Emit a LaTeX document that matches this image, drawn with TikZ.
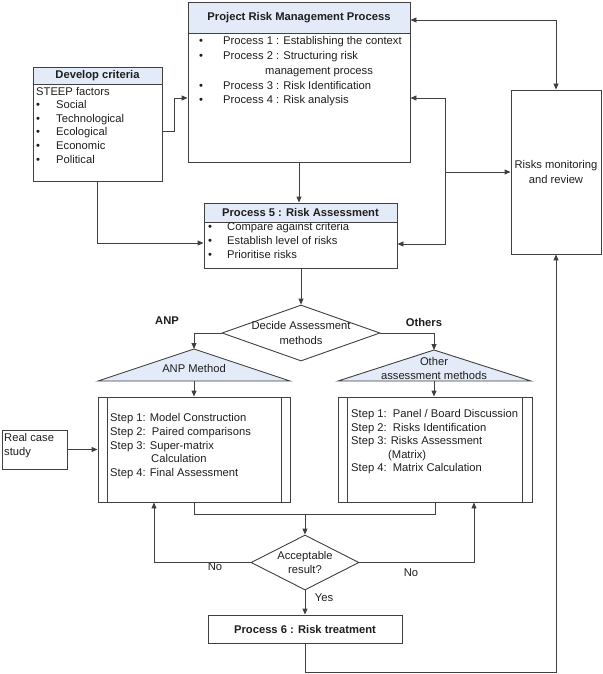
\documentclass[tikz,border=0pt]{standalone}
\usepackage{fontspec}
\setmainfont{Liberation Sans}
\usetikzlibrary{arrows.meta,shapes.geometric,calc}
\definecolor{lnc}{HTML}{404040}
\definecolor{hdc}{HTML}{E3EBF8}
\definecolor{txc}{HTML}{1E1E1E}
\begin{document}
\begin{tikzpicture}[x=1pt,y=-1pt,
  every node/.style={font=\fontsize{11.2}{14.5}\selectfont, text=txc},
  box/.style={draw=lnc, line width=0.9pt, rectangle, inner sep=0pt},
  hdr/.style={draw=lnc, line width=0.9pt, rectangle, inner sep=0pt, fill=hdc, font=\fontsize{11.2}{14.5}\selectfont\bfseries},
  txt/.style={anchor=west, inner sep=0pt, text height=8pt, text depth=2.3pt},
  ctx/.style={anchor=center, inner sep=0pt, text height=8pt, text depth=2.3pt},
  bul/.style={anchor=center, inner sep=0pt},
  wire/.style={draw=lnc, line width=0.9pt},
  arr/.style={draw=lnc, line width=0.9pt, -{Triangle[length=6pt,width=5pt]}},
  arrb/.style={draw=lnc, line width=0.9pt, {Triangle[length=6pt,width=5pt]}-{Triangle[length=6pt,width=5pt]}},
  dia/.style={draw=lnc, line width=0.9pt, diamond, inner sep=0pt, fill=white},
  tri/.style={draw=lnc, line width=0.9pt, fill=hdc},
  lab/.style={inner sep=0pt, text height=8pt, text depth=2.3pt},
  mlab/.style={inner sep=0pt},
]
\useasboundingbox (0,0) rectangle (602,674);

% Project Risk Management Process
\node[box, minimum width=222pt, minimum height=160pt] (prm) at (299,82) {};
\node[hdr, minimum width=222pt, minimum height=31pt] (prmh) at (299,17.5) {Project Risk Management Process};
\node[bul] (pb1) at (201,42) {•};
\node[txt] (pt1) at (223,42) {Process 1 : Establishing the context};
\node[bul] (pb2) at (201,57) {•};
\node[txt] (pt2) at (223,57) {Process 2 : Structuring risk};
\node[txt] (pt2b) at (265,72) {management process};
\node[bul] (pb3) at (201,87) {•};
\node[txt] (pt3) at (223,87) {Process 3 : Risk Identification};
\node[bul] (pb4) at (201,101) {•};
\node[txt] (pt4) at (223,101) {Process 4 : Risk analysis};

% Develop criteria
\node[box, minimum width=129pt, minimum height=114pt] (dc) at (97.5,124) {};
\node[hdr, minimum width=129pt, minimum height=17pt] (dch) at (97.5,75.5) {Develop criteria};
\node[txt] (dct0) at (36,93) {STEEP factors};
\node[bul] (db1) at (38,106) {•};
\node[txt] (dt1) at (56,106) {Social};
\node[bul] (db2) at (38,120) {•};
\node[txt] (dt2) at (56,120) {Technological};
\node[bul] (db3) at (38,133) {•};
\node[txt] (dt3) at (56,133) {Ecological};
\node[bul] (db4) at (38,147) {•};
\node[txt] (dt4) at (56,147) {Economic};
\node[bul] (db5) at (38,161) {•};
\node[txt] (dt5) at (56,161) {Political};

% Process 5
\node[box, minimum width=193pt, minimum height=65pt] (p5) at (300.5,235.5) {};
\node[hdr, minimum width=193pt, minimum height=19pt] (p5h) at (300.5,212.5) {Process 5 : Risk Assessment};
\node[bul] (qb1) at (210,228) {•};
\node[txt] (qt1) at (227,228) {Compare against criteria};
\node[bul] (qb2) at (210,242) {•};
\node[txt] (qt2) at (227,242) {Establish level of risks};
\node[bul] (qb3) at (210,256) {•};
\node[txt] (qt3) at (227,256) {Prioritise risks};

% Risks monitoring and review
\node[box, minimum width=90pt, minimum height=164pt, align=center] (rm) at (556,172) {Risks monitoring\\and review};

% Decide assessment methods
\node[dia, minimum width=158pt, minimum height=56pt] (d1) at (301,333) {};
\node[mlab, align=center] (d1t) at (301,333) {Decide Assessment\\methods};
\node[lab, font=\fontsize{11.2}{14.5}\selectfont\bfseries] (anpl) at (167,322) {ANP};
\node[lab, font=\fontsize{11.2}{14.5}\selectfont\bfseries] (othl) at (424,324) {Others};

% triangles
\coordinate (anpT) at (194,349);
\coordinate (anpB) at (194,381);
\draw[tri] (98,381) -- (anpT) -- (290,381) -- cycle;
\node[ctx] (anpt) at (194,370) {ANP Method};
\coordinate (othT) at (434,350);
\coordinate (othB) at (434,381);
\draw[tri] (338,381) -- (othT) -- (531,381) -- cycle;
\node[ctx] (otht1) at (434,363) {Other};
\node[ctx] (otht2) at (434,377) {assessment methods};

% ANP steps box
\node[box, minimum width=192pt, minimum height=105pt] (ab) at (194,449.5) {};
\draw[wire] ($(ab.north west)+(10,0)$) -- ($(ab.south west)+(10,0)$);
\draw[wire] ($(ab.north east)+(-9,0)$) -- ($(ab.south east)+(-9,0)$);
\node[txt] (a1) at (110,419) {Step 1: Model Construction};
\node[txt] (a2) at (110,433) {Step 2:\ \ Paired comparisons};
\node[txt] (a3) at (110,447) {Step 3: Super-matrix};
\node[txt] (a3b) at (151,460) {Calculation};
\node[txt] (a4) at (110,474) {Step 4: Final Assessment};

% Other steps box
\node[box, minimum width=194pt, minimum height=105pt] (ob) at (435,449.5) {};
\draw[wire] ($(ob.north west)+(10,0)$) -- ($(ob.south west)+(10,0)$);
\draw[wire] ($(ob.north east)+(-10,0)$) -- ($(ob.south east)+(-10,0)$);
\node[txt] (o1) at (351,415) {Step 1:\ \ Panel / Board Discussion};
\node[txt] (o2) at (351,429) {Step 2:\ \ Risks Identification};
\node[txt] (o3) at (351,442) {Step 3: Risks Assessment};
\node[txt] (o3b) at (388,456) {(Matrix)};
\node[txt] (o4) at (351,469) {Step 4:\ \ Matrix Calculation};

% Real case study
\node[box, minimum width=65pt, minimum height=39pt] (rc) at (34.5,449.5) {};
\node[txt] (rc1) at (4,439) {Real case};
\node[txt] (rc2) at (4,453) {study};

% Acceptable result
\node[dia, minimum width=108pt, minimum height=55pt] (d2) at (305,562.5) {};
\node[mlab, align=center] (d2t) at (305,562.5) {Acceptable\\result?};

% Process 6
\node[box, minimum width=194pt, minimum height=28pt, font=\fontsize{11.2}{14.5}\selectfont\bfseries] (p6) at (305,629) {Process 6 : Risk treatment};

% labels
\node[lab] (no1) at (215,568) {No};
\node[lab] (no2) at (411,574) {No};
\node[lab] (yes) at (324,599) {Yes};

% connectors
\draw[arr] (dc.east |- 0,131) -- (174,131) |- (prm.west |- 0,98);
\draw[arr] (dc.south) |- (p5.west |- 0,243);
\draw[arr] (prm.south) -- (prm.south |- p5.north);
\coordinate (j) at (445,172);
\draw[arr] (j) |- (prm.east |- 0,98);
\draw[arr] (j) |- (p5.east |- 0,244);
\draw[arr] (j) -- (rm.west |- j);
\draw[arrb] (prm.east |- 0,20) -| (rm.north);
\draw[arr] (p5.south -| d1.north) -- (d1.north);
\draw[arr] (d1.west) -| (anpT);
\draw[arr] (d1.east) -| (othT);
\draw[arr] (anpB) -- (ab.north);
\draw[arr] (othB) -- (othB |- ob.north);
\draw[arr] (rc.east) -- (ab.west);
\coordinate (m) at (305,514);
\draw[wire] (ab.south) |- (ob.south |- m) -- (ob.south);
\draw[arr] (m) -- (d2.north);
\draw[arr] (d2.west) -| (ab.south -| 154,0);
\draw[arr] (d2.east) -| (ob.south -| 474,0);
\draw[arr] (d2.south) -- (p6.north);
\draw[arr] (p6.south) -- (p6.south |- 0,672) -| (rm.south);
\end{tikzpicture}
\end{document}
